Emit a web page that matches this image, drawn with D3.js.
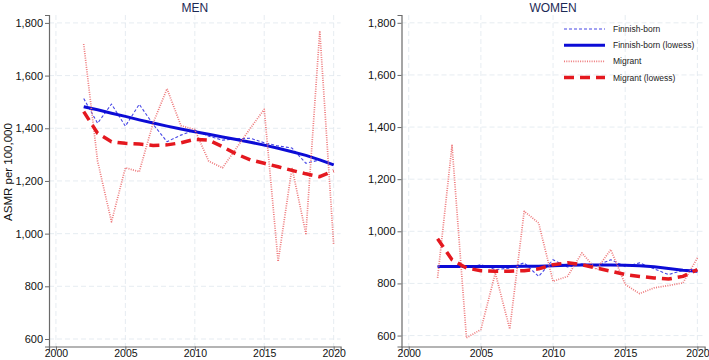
<!DOCTYPE html>
<html>
<head>
<meta charset="utf-8">
<script src="https://cdn.jsdelivr.net/npm/d3@7"></script>
<style>
  html, body { margin:0; padding:0; background:#fff; }
  svg { display:block; font-family: "Liberation Sans", Arial, sans-serif; }
</style>
</head>
<body>
<div id="chart"></div>
<script>
// ASMR per 100,000 — Finnish-born vs migrant, 2002-2020

const years = [2002, 2003, 2004, 2005, 2006, 2007, 2008, 2009, 2010, 2011,
               2012, 2013, 2014, 2015, 2016, 2017, 2018, 2019, 2020];

const menFinnish        = [1513, 1419, 1492, 1408, 1491, 1415, 1349, 1374, 1393, 1370, 1355, 1360, 1362, 1345, 1333, 1325, 1267, 1280, 1261];
const menFinnishLowess  = [1482, 1470, 1457, 1445, 1432, 1420, 1408, 1397, 1387, 1377, 1367, 1357, 1347, 1336, 1324, 1311, 1297, 1280, 1261];
const menMigrant        = [1720, 1275, 1045, 1250, 1235, 1420, 1550, 1410, 1395, 1275, 1250, 1325, 1400, 1472, 894, 1250, 1000, 1770, 957];
const menMigrantLowess  = [1463, 1381, 1349, 1343, 1340, 1335, 1337, 1345, 1358, 1355, 1330, 1302, 1280, 1267, 1254, 1240, 1227, 1216, 1238];

const womenFinnish       = [865, 865, 860, 872, 853, 859, 879, 827, 891, 863, 875, 868, 891, 865, 879, 856, 834, 850, 853];
const womenFinnishLowess = [865, 865, 865, 865, 865, 865, 866, 866, 868, 870, 871, 871, 871, 870, 868, 864, 857, 851, 847];
const womenMigrant       = [821, 1330, 591, 623, 840, 625, 1077, 1032, 808, 827, 917, 853, 930, 796, 761, 783, 792, 802, 898];
const womenMigrantLowess = [971, 891, 859, 849, 847, 847, 849, 856, 872, 879, 872, 859, 847, 834, 827, 821, 817, 827, 853];

const xTicks = [2000, 2005, 2010, 2015, 2020];
const yTicks = [600, 800, 1000, 1200, 1400, 1600, 1800];

const seriesNames = ['Finnish-born', 'Finnish-born (lowess)', 'Migrant', 'Migrant (lowess)'];

const W = 709, H = 360;

// line styles, same order as seriesNames
const styles = [
  { color:'#4646e6', width:1.1, dash:'3,2'  },
  { color:'#0c0cd6', width:3,   dash:null   },
  { color:'#ee7a7c', width:1.7, dash:'1,1.3'},
  { color:'#e4181f', width:3.5, dash:'10,6' },
];

const panels = [
  { title:'MEN',   left:49,  right:340.6, top:15, bottom:346.5, yDomain:[571.5, 1830],
    data:[menFinnish, menFinnishLowess, menMigrant, menMigrantLowess] },
  { title:'WOMEN', left:401.5, right:704.6, top:15, bottom:346.5, yDomain:[558, 1830],
    data:[womenFinnish, womenFinnishLowess, womenMigrant, womenMigrantLowess] },
];

const svg = d3.select('#chart').append('svg')
  .attr('width', W).attr('height', H);

panels.forEach((p, pi) => {
  const x = d3.scaleLinear().domain([1999.5, 2020.5]).range([p.left, p.right]);
  const y = d3.scaleLinear().domain(p.yDomain).range([p.bottom, p.top]);

  const g = svg.append('g');

  // grid
  g.append('g').selectAll('line.h').data(yTicks).join('line')
    .attr('x1', p.left).attr('x2', p.right)
    .attr('y1', d => y(d)).attr('y2', d => y(d))
    .attr('stroke', '#dfe7ee').attr('stroke-width', 0.8).attr('stroke-dasharray', '5,3');
  g.append('g').selectAll('line.v').data(xTicks).join('line')
    .attr('x1', d => x(d)).attr('x2', d => x(d))
    .attr('y1', p.top).attr('y2', p.bottom)
    .attr('stroke', '#dfe7ee').attr('stroke-width', 0.8).attr('stroke-dasharray', '5,3');

  // axes
  const yAxis = d3.axisLeft(y).tickValues(yTicks).tickSize(4).tickPadding(2)
    .tickFormat(d3.format(','));
  const xAxis = d3.axisBottom(x).tickValues(xTicks).tickSize(4).tickPadding(1)
    .tickFormat(d3.format('d'));

  const ya = g.append('g').attr('transform', `translate(${p.left},0)`).call(yAxis);
  const xa = g.append('g').attr('transform', `translate(0,${p.bottom})`).call(xAxis);
  [ya, xa].forEach(a => {
    a.select('.domain').attr('stroke', '#6a6a6a').attr('stroke-width', 1.2);
    a.selectAll('.tick line').attr('stroke', '#6a6a6a');
    a.selectAll('.tick text').attr('fill', '#111').attr('font-size', 11)
      .attr('font-family', '"Liberation Sans", Arial, sans-serif');
  });
  xa.selectAll('.tick text').attr('font-size', 10.5).attr('dy', '0.5em');

  // series
  const line = d3.line().x((d, i) => x(years[i])).y(d => y(d));
  p.data.forEach((vals, si) => {
    const s = styles[si];
    g.append('path').datum(vals)
      .attr('d', line)
      .attr('fill', 'none')
      .attr('stroke', s.color)
      .attr('stroke-width', s.width)
      .attr('stroke-dasharray', s.dash)
      .attr('stroke-linejoin', 'round');
  });

  // title
  g.append('text')
    .attr('x', (p.left + p.right) / 2).attr('y', 11.5)
    .attr('text-anchor', 'middle')
    .attr('font-size', 12).attr('fill', '#1c2a55')
    .text(p.title);
});

// y label
svg.append('text')
  .attr('transform', 'translate(12,172) rotate(-90)')
  .attr('text-anchor', 'middle')
  .attr('font-size', 11.5).attr('fill', '#111')
  .text('ASMR per 100,000');

// legend (inside women panel)
const legend = svg.append('g');
seriesNames.forEach((name, i) => {
  const s = styles[i];
  const ly = 29 + i * 16.2;
  legend.append('line')
    .attr('x1', 564).attr('x2', 605).attr('y1', ly).attr('y2', ly)
    .attr('stroke', s.color).attr('stroke-width', s.width)
    .attr('stroke-dasharray', s.dash);
  legend.append('text')
    .attr('x', 613).attr('y', ly + 3)
    .attr('font-size', 8.5).attr('fill', '#222')
    .text(name);
});
</script>
</body>
</html>
